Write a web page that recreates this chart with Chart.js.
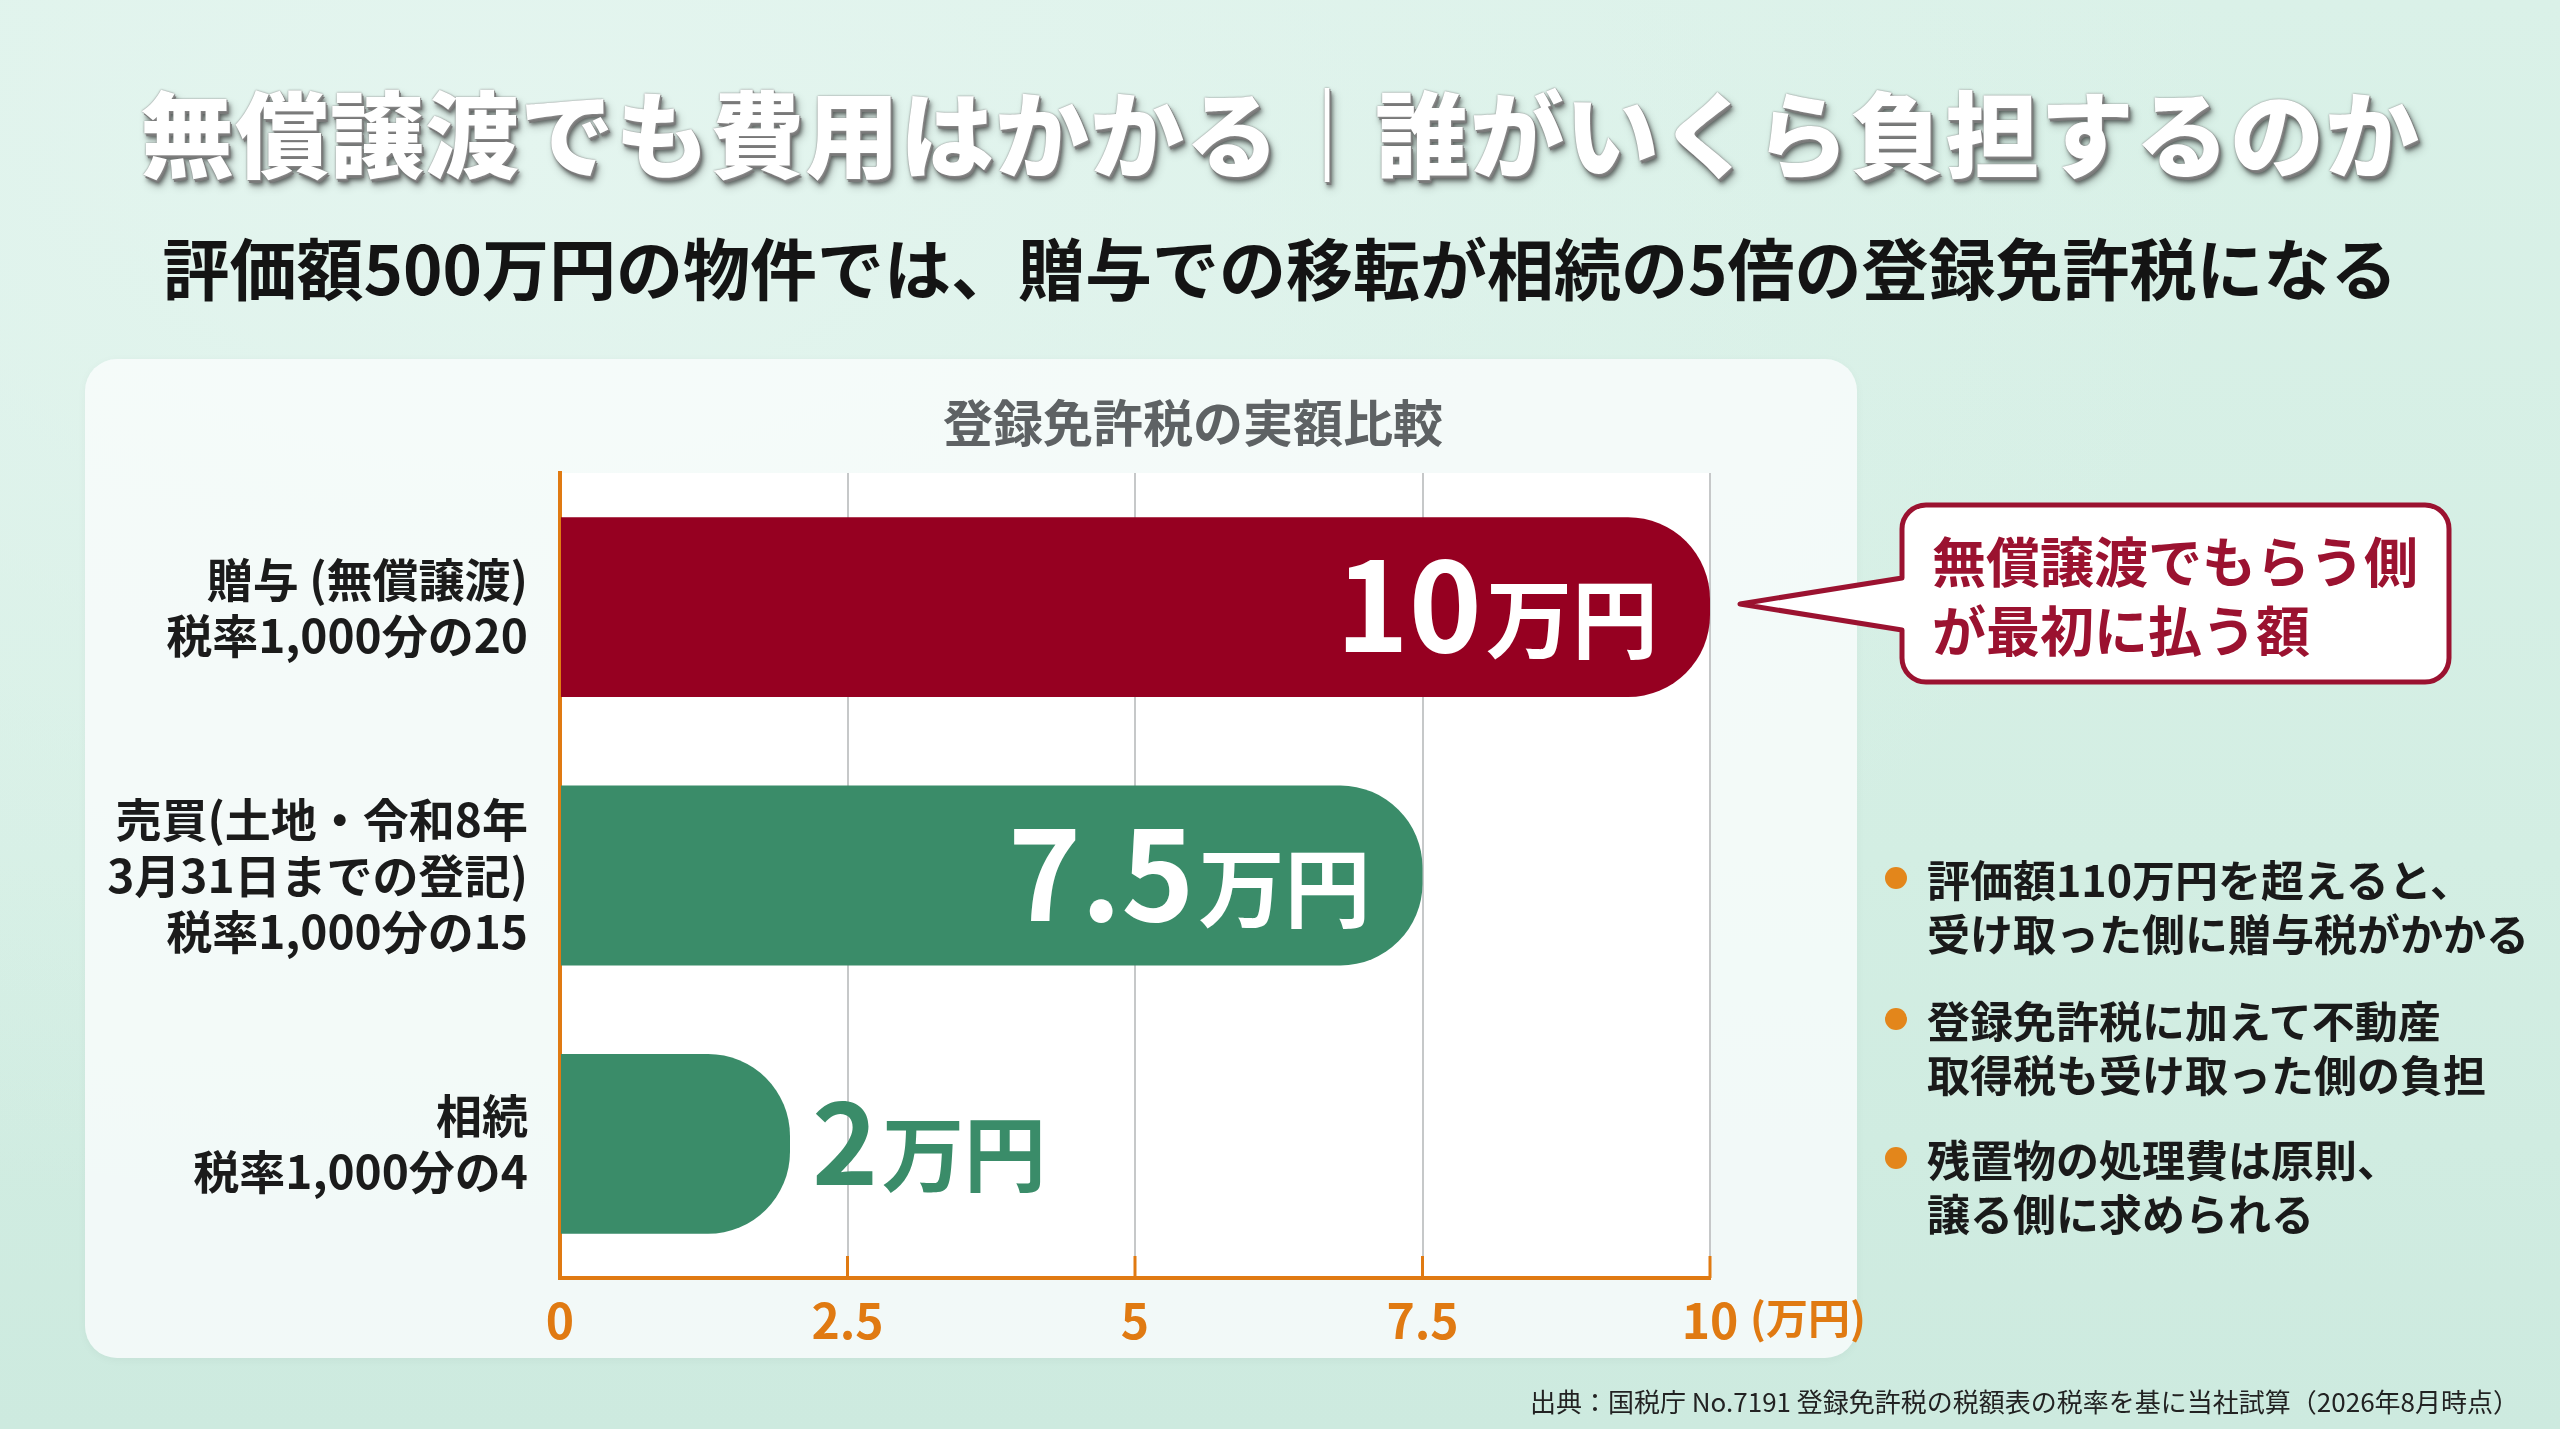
<!DOCTYPE html>
<html lang="ja">
<head>
<meta charset="utf-8">
<title>登録免許税の実額比較</title>
<script src="https://cdn.jsdelivr.net/npm/chart.js@4.4.1/dist/chart.umd.min.js"></script>
<style>
  html, body { margin: 0; padding: 0; }
  body {
    width: 2560px; height: 1429px; overflow: hidden; position: relative;
    font-family: "Noto Sans CJK JP", "Noto Sans", sans-serif;
    background: radial-gradient(ellipse at 20% 10%, #e4f5ef 0%, rgba(228,245,239,0) 60%),
                linear-gradient(180deg, #daf1e8 0%, #d3eee3 60%, #cdeadf 100%);
  }
  .title {
    position: absolute; left: 0; width: 2560px; top: 80px;
    text-align: center; font-size: 94px; line-height: 100px; font-weight: 900;
    color: #ffffff; letter-spacing: 1px;
    text-shadow: 0 0 2px #777, 1px 1px 0 #8a8a8a, 2px 3px 0 #7a7a7a,
                 3px 5px 4px rgba(30,30,30,0.6), 4px 7px 10px rgba(0,0,0,0.25);
  }
  .subtitle {
    position: absolute; left: 0; width: 2560px; top: 228px;
    text-align: center; font-size: 67px; line-height: 76px; font-weight: 700; color: #141414;
  }
  .card {
    position: absolute; left: 85px; top: 359px; width: 1772px; height: 999px;
    border-radius: 32px; background: rgba(248, 252, 251, 0.85);
    box-shadow: 0 2px 10px rgba(0,0,0,0.04);
  }
  .chart-title {
    position: absolute; left: 893px; width: 600px; top: 390px;
    text-align: center; font-size: 50px; line-height: 60px; font-weight: 700; color: #5e6264;
  }
  #chart { position: absolute; left: 0; top: 0; }
  #callout { position: absolute; left: 0; top: 0; pointer-events: none; }
  .callout-text {
    position: absolute; left: 1932px; top: 525px;
    font-size: 54px; line-height: 69px; font-weight: 700; color: #9b1230;
  }
  .bullet {
    position: absolute; left: 1927px; font-size: 43px; line-height: 54px;
    font-weight: 700; color: #1a1a1a; white-space: nowrap;
  }
  .bullet::before {
    content: ""; position: absolute; left: -42px; top: 16px;
    width: 22px; height: 22px; border-radius: 50%; background: #e3861b;
  }
  .source {
    position: absolute; right: 41px; top: 1385px;
    font-size: 26px; line-height: 32px; color: #222;
  }
</style>
</head>
<body>
<div class="title">無償譲渡でも費用はかかる｜誰がいくら負担するのか</div>
<div class="subtitle">評価額500万円の物件では、贈与での移転が相続の5倍の登録免許税になる</div>
<div class="card"></div>
<div class="chart-title">登録免許税の実額比較</div>
<canvas id="chart" width="2560" height="1429"></canvas>
<svg id="callout" width="2560" height="1429">
  <path d="M 1926 505 H 2425 A 24 24 0 0 1 2449 529 V 658 A 24 24 0 0 1 2425 682 H 1926 A 24 24 0 0 1 1902 658 V 630 L 1740 604 L 1902 578 V 529 A 24 24 0 0 1 1926 505 Z"
        fill="#ffffff" stroke="#9b1230" stroke-width="5" stroke-linejoin="round"/>
</svg>
<div class="callout-text">無償譲渡でもらう側<br>が最初に払う額</div>
<div class="bullet" style="top:851px">評価額110万円を超えると、<br>受け取った側に贈与税がかかる</div>
<div class="bullet" style="top:992px">登録免許税に加えて不動産<br>取得税も受け取った側の負担</div>
<div class="bullet" style="top:1131px">残置物の処理費は原則、<br>譲る側に求められる</div>
<div class="source">出典：国税庁 No.7191 登録免許税の税額表の税率を基に当社試算（2026年8月時点）</div>

<script>
// data
const categories = [
    ['贈与 (無償譲渡)', '税率1,000分の20'],
    ['売買(土地・令和8年', '3月31日までの登記)', '税率1,000分の15'],
    ['相続', '税率1,000分の4']
];
const taxAmounts = [10, 7.5, 2];   // 万円
const unitLabel = '万円';
const xMax = 10;
const xStep = 2.5;

const RED = '#960021';
const GREEN = '#3a8c69';
const ORANGE = '#e07a12';
const FONT = '"Noto Sans CJK JP", "Noto Sans", sans-serif';

// white plot background
const plotBg = {
    id: 'plotBg',
    beforeDraw(chart) {
        const { ctx, chartArea: a } = chart;
        ctx.save();
        ctx.fillStyle = '#ffffff';
        ctx.fillRect(a.left, a.top, a.right - a.left, a.bottom - a.top);
        ctx.restore();
    }
};

// small orange tick marks going up from the axis + unit label
const axisExtras = {
    id: 'axisExtras',
    afterDraw(chart) {
        const { ctx, chartArea: a } = chart;
        const xs = chart.scales.x;
        ctx.save();
        ctx.strokeStyle = ORANGE;
        ctx.lineWidth = 3;
        xs.ticks.forEach(t => {
            if (t.value === 0) return;
            const px = xs.getPixelForValue(t.value);
            ctx.beginPath();
            ctx.moveTo(px, a.bottom);
            ctx.lineTo(px, a.bottom - 22);
            ctx.stroke();
        });
        ctx.fillStyle = ORANGE;
        ctx.font = `700 42px ${FONT}`;
        ctx.textAlign = 'left';
        ctx.textBaseline = 'middle';
        ctx.fillText('(' + unitLabel + ')', a.right + 40, a.bottom + 40);
        ctx.restore();
    }
};

// value labels: big number + smaller unit
const valueLabels = {
    id: 'valueLabels',
    afterDatasetsDraw(chart) {
        const ctx = chart.ctx;
        const meta = chart.getDatasetMeta(0);
        meta.data.forEach((bar, i) => {
            const num = String(taxAmounts[i]);
            const inside = taxAmounts[i] >= 5;
            const numFont = `700 ${inside ? 124 : 112}px ${FONT}`;
            const unitFont = `700 ${inside ? 86 : 82}px ${FONT}`;
            ctx.save();
            ctx.textBaseline = 'alphabetic';
            ctx.textAlign = 'left';
            ctx.font = numFont;
            const nw = ctx.measureText(num).width;
            ctx.font = unitFont;
            const uw = ctx.measureText(unitLabel).width;
            const base = bar.y + (inside ? 45 : 41);
            const x = inside ? bar.x - 52 - uw - nw - 4 : bar.x + 22;
            ctx.fillStyle = inside ? '#ffffff' : GREEN;
            ctx.font = numFont;
            ctx.fillText(num, x, base);
            ctx.font = unitFont;
            ctx.fillText(unitLabel, x + nw + 4, base);
            ctx.restore();
        });
    }
};

function draw() {
    new Chart(document.getElementById('chart'), {
        type: 'bar',
        data: {
            labels: categories,
            datasets: [{
                data: taxAmounts,
                backgroundColor: [RED, GREEN, GREEN],
                borderWidth: 0,
                borderRadius: { topLeft: 0, bottomLeft: 0, topRight: 82, bottomRight: 82 },
                borderSkipped: 'start',
                barPercentage: 0.67,
                categoryPercentage: 1
            }]
        },
        options: {
            indexAxis: 'y',
            responsive: false,
            devicePixelRatio: 1,
            animation: false,
            layout: { padding: { left: 85, top: 473, right: 850, bottom: 71 } },
            plugins: {
                legend: { display: false },
                tooltip: { enabled: false }
            },
            scales: {
                x: {
                    type: 'linear',
                    min: 0,
                    max: xMax,
                    afterFit(s) { s.height = 80; },
                    grid: { color: '#c6c8c9', lineWidth: 2, drawTicks: false },
                    border: { color: ORANGE, width: 4 },
                    ticks: {
                        stepSize: xStep,
                        color: ORANGE,
                        padding: 14,
                        font: { family: FONT, size: 48, weight: '700' }
                    }
                },
                y: {
                    afterFit(s) { s.width = 475; },
                    grid: { display: false, drawTicks: false },
                    border: { color: ORANGE, width: 4 },
                    ticks: {
                        color: '#1b1b1b',
                        padding: 32,
                        font: { family: FONT, size: 46, weight: '700', lineHeight: 1.22 }
                    }
                }
            }
        },
        plugins: [plotBg, axisExtras, valueLabels]
    });
}

document.fonts.load(`700 40px "Noto Sans CJK JP"`).then(draw, draw);
</script>
</body>
</html>
